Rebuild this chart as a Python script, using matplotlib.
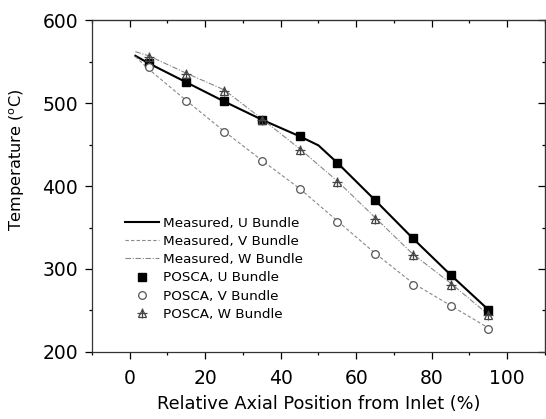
import matplotlib
matplotlib.use("Agg")
import matplotlib.pyplot as plt
from matplotlib.ticker import MultipleLocator

plt.rcParams['font.family'] = ['DejaVu Sans']

# measured curves
meas_x_u = [1.5, 5, 15, 25, 35, 45, 50, 55, 65, 75, 85, 95]
meas_u = [557, 548, 525, 502, 480, 460, 449, 428, 383, 337, 293, 251]
meas_x_v = [1.5, 5, 15, 25, 35, 45, 55, 65, 75, 85, 95]
meas_v = [556, 541, 503, 466, 431, 397, 358, 319, 283, 256, 229]
meas_x_w = [1.5, 5, 15, 25, 35, 45, 55, 65, 75, 85, 95]
meas_w = [562, 557, 536, 516, 481, 445, 406, 362, 318, 283, 245]

# POSCA predictions
posca_x = [5, 15, 25, 35, 45, 55, 65, 75, 85, 95]
posca_u = [548, 525, 502, 480, 460, 428, 383, 337, 293, 251]
posca_v = [543, 502, 465, 430, 396, 357, 318, 281, 255, 228]
posca_w = [556, 535, 515, 479, 443, 405, 360, 317, 281, 244]

fig = plt.figure(figsize=(5.46, 4.19), dpi=100)
ax = fig.add_axes([0.1685, 0.160, 0.8295, 0.792])

ax.plot(meas_x_u, meas_u, color='black', lw=1.5, label='Measured, U Bundle')
ax.plot(meas_x_v, meas_v, color='#888888', lw=0.8, ls=(0, (3, 2)), label='Measured, V Bundle')
ax.plot(meas_x_w, meas_w, color='#888888', lw=0.8, ls=(0, (5, 1.5, 1, 1.5)), label='Measured, W Bundle')

ax.plot(posca_x, posca_u, ls='none', marker='s', ms=5.2, mfc='black', mec='black',
        label='POSCA, U Bundle')
ax.plot(posca_x, posca_v, ls='none', marker='o', ms=5.5, mfc='white', mec='#555555', mew=0.9,
        label='POSCA, V Bundle')
# triangle with a cross through it
tri = dict(ls='none', marker='^', ms=6, mfc='none', mec='#444444', mew=0.9)
crs = dict(ls='none', marker='+', ms=7.5, mec='#444444', mew=0.9)
ax.plot(posca_x, posca_w, **tri)
ax.plot(posca_x, posca_w, **crs)
w_handle = ax.plot([], [], **tri)[0]
w_cross = ax.plot([], [], **crs)[0]

handles, labels = ax.get_legend_handles_labels()
handles.append((w_handle, w_cross))
labels.append('POSCA, W Bundle')
ax.legend(handles, labels, loc='upper left', bbox_to_anchor=(0.073, 0.408), frameon=False,
          fontsize=9.7, handlelength=2.5, handletextpad=0.3, labelspacing=0.39,
          borderaxespad=0, borderpad=0)

ax.set_xlim(-10, 110)
ax.set_ylim(200, 600)
ax.xaxis.set_major_locator(MultipleLocator(20))
ax.xaxis.set_minor_locator(MultipleLocator(10))
ax.yaxis.set_major_locator(MultipleLocator(100))
ax.yaxis.set_minor_locator(MultipleLocator(50))

ax.tick_params(which='major', direction='out', length=5, width=0.9, labelsize=13.5)
ax.tick_params(which='minor', direction='out', length=2.5, width=0.9)
ax.tick_params(axis='x', pad=7)
ax.tick_params(axis='y', pad=5)

top = ax.secondary_xaxis('top')
top.xaxis.set_major_locator(MultipleLocator(20))
top.xaxis.set_minor_locator(MultipleLocator(10))
top.tick_params(which='major', direction='in', length=5, width=0.9, labeltop=False)
top.tick_params(which='minor', direction='in', length=2.5, width=0.9)
right = ax.secondary_yaxis('right')
right.yaxis.set_major_locator(MultipleLocator(100))
right.yaxis.set_minor_locator(MultipleLocator(50))
right.tick_params(which='major', direction='in', length=5, width=0.9, labelright=False)
right.tick_params(which='minor', direction='in', length=2.5, width=0.9)

for sp in ax.spines.values():
    sp.set_linewidth(0.9)
    sp.set_color('#333333')

ax.set_xlabel('Relative Axial Position from Inlet (%)', fontsize=12.8, labelpad=5)
ax.set_ylabel('Temperature ($^{\\mathrm{o}}$C)', fontsize=11.6)
ax.yaxis.set_label_coords(-0.1435, 0.578)

fig.savefig('out.png', dpi=100)
